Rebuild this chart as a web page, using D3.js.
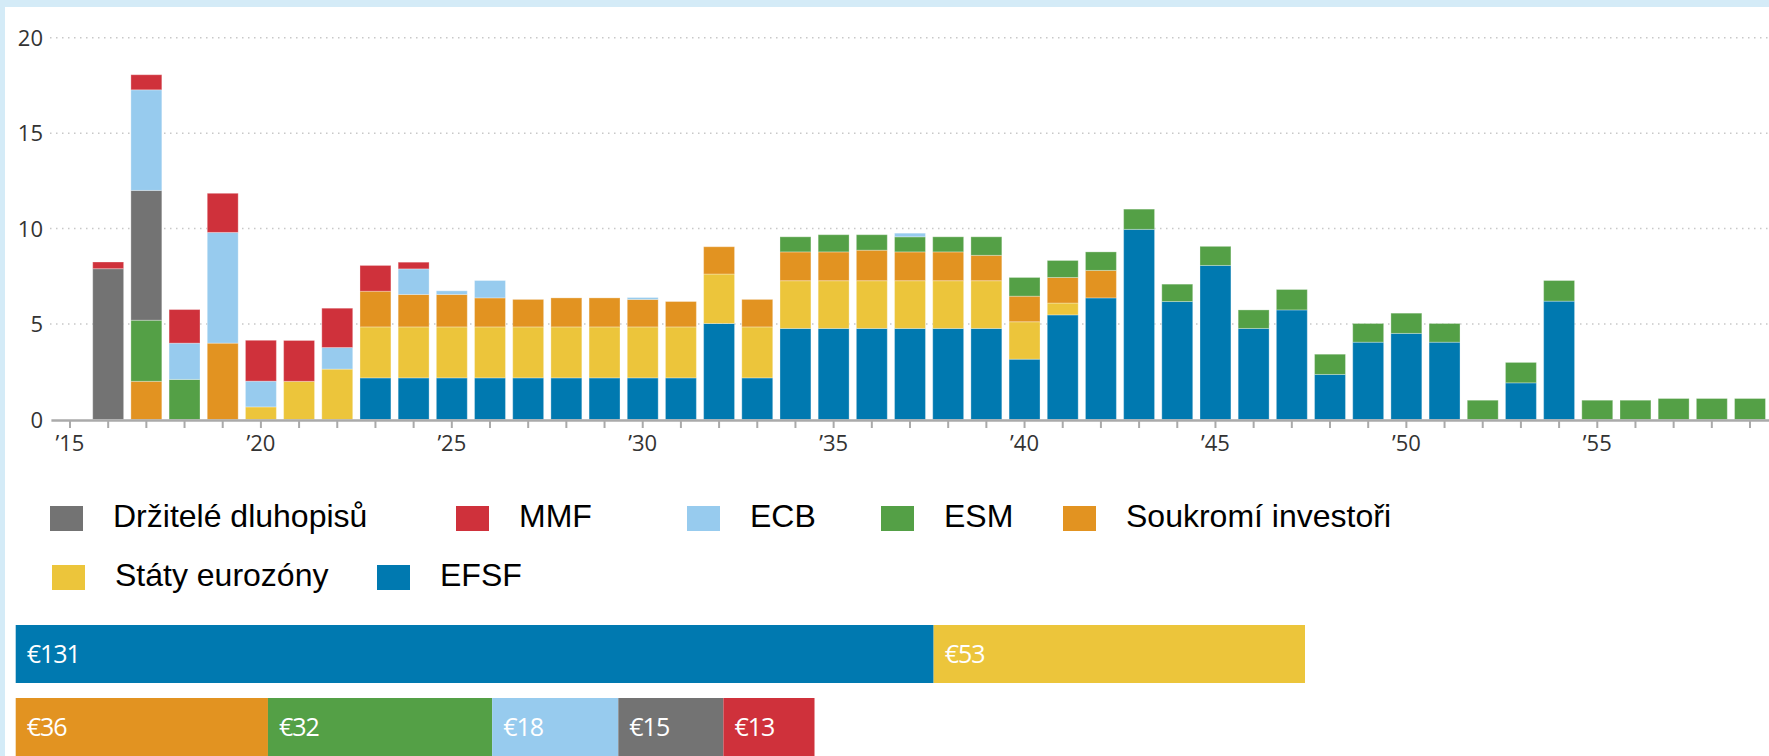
<!DOCTYPE html>
<html lang="cs">
<head>
<meta charset="UTF-8" />
<title>Splátky dluhu</title>
<script src="https://d3js.org/d3.v7.min.js"></script>
<style>
  body { margin: 0; background: #d4ebf7; }
  svg { display: block; }
</style>
</head>
<body>
<svg id="chart" width="1769" height="756"></svg>
<script>
// years on the x axis ('15 .. '59)
var years = d3.range(2015, 2060);

// series, bottom to top of each stack (values in bn EUR, 2015..2059)
var efsf   = [0,0,0,0,0,0,0,0, 2.18,2.18,2.18,2.18,2.18,2.18,2.18,2.18,2.18,5.03,2.18,4.77,4.77,4.77,4.77,4.77,4.77,3.16,5.48,6.37,9.96,6.18,8.07,4.77,5.74,2.36,4.05,4.51,4.05,0,1.92,6.2,0,0,0,0,0];
var staty  = [0,0,0,0,0,0.66,2.0,2.64, 2.67,2.67,2.67,2.67,2.67,2.67,2.67,2.67,2.67,2.59,2.67,2.5,2.5,2.5,2.5,2.5,2.5,1.96,0.62,0,0,0,0,0,0,0,0,0,0,0,0,0,0,0,0,0,0];
var soukr  = [0,0,2.0,0,4.0,0,0,0, 1.87,1.7,1.7,1.52,1.44,1.52,1.52,1.44,1.33,1.43,1.44,1.51,1.51,1.6,1.51,1.51,1.33,1.34,1.34,1.44,0,0,0,0,0,0,0,0,0,0,0,0,0,0,0,0,0];
var esm    = [0,0,3.2,2.1,0,0,0,0, 0,0,0,0,0,0,0,0,0,0,0,0.79,0.9,0.81,0.79,0.79,0.97,0.98,0.89,0.97,1.06,0.91,1.0,0.97,1.07,1.06,0.98,1.06,0.98,1.01,1.07,1.08,1.01,1.01,1.1,1.1,1.1];
var drzit  = [0,7.9,6.8,0,0,0,0,0, 0,0,0,0,0,0,0,0,0,0,0,0,0,0,0,0,0,0,0,0,0,0,0,0,0,0,0,0,0,0,0,0,0,0,0,0,0];
var ecb    = [0,0,5.27,1.9,5.8,1.35,0,1.13, 0,1.34,0.19,0.91,0,0,0,0.1,0,0,0,0,0,0,0.19,0,0,0,0,0,0,0,0,0,0,0,0,0,0,0,0,0,0,0,0,0,0];
var mmf    = [0,0.35,0.79,1.76,2.05,2.14,2.14,2.06, 1.35,0.35,0,0,0,0,0,0,0,0,0,0,0,0,0,0,0,0,0,0,0,0,0,0,0,0,0,0,0,0,0,0,0,0,0,0,0];

var seriesKeys   = ["efsf", "staty", "soukr", "esm", "drzit", "ecb", "mmf"];
var seriesValues = [efsf, staty, soukr, esm, drzit, ecb, mmf];
var seriesNames  = {
  drzit: "Držitelé dluhopisů", mmf: "MMF", ecb: "ECB", esm: "ESM",
  soukr: "Soukromí investoři", staty: "Státy eurozóny", efsf: "EFSF"
};
var colors = {
  efsf: "#0079b0", staty: "#ecc53b", soukr: "#e29321", esm: "#54a046",
  drzit: "#737373", ecb: "#97cbee", mmf: "#cf313b"
};

// totals strip under the legend
var totalsRow1 = [["efsf", 131], ["staty", 53]];
var totalsRow2 = [["soukr", 36], ["esm", 32], ["ecb", 18], ["drzit", 15], ["mmf", 13]];

// legend order, two rows
var legendRow1 = ["drzit", "mmf", "ecb", "esm", "soukr"];
var legendRow2 = ["staty", "efsf"];

var svg = d3.select("#chart");

// white panel on light blue frame
svg.append("rect").attr("width", 1769).attr("height", 756).attr("fill", "#d4ebf7");
svg.append("rect").attr("x", 5).attr("y", 7).attr("width", 1764).attr("height", 749).attr("fill", "#fff");

var x = d3.scaleBand()
  .domain(years)
  .range([50.9, 1769.1])
  .paddingInner(0.19)
  .paddingOuter(0.095);

var y = d3.scaleLinear()
  .domain([0, 20])
  .range([419.5, 37.7]);

var axisFont = "'Open Sans', sans-serif";

// gridlines
var grid = svg.append("g");
grid.selectAll("line")
  .data(y.ticks(4).filter(function(d){ return d > 0; }))
  .enter().append("line")
  .attr("x1", 50).attr("x2", 1769)
  .attr("y1", function(d){ return y(d); })
  .attr("y2", function(d){ return y(d); })
  .attr("stroke", "#c8c8c8")
  .attr("stroke-width", 1.5)
  .attr("stroke-dasharray", "1.5,4.5");

// y labels
svg.append("g").selectAll("text")
  .data(y.ticks(4))
  .enter().append("text")
  .attr("x", 43)
  .attr("y", function(d){ return y(d) + 8; })
  .attr("text-anchor", "end")
  .attr("font-family", axisFont)
  .attr("font-size", 22)
  .attr("fill", "#333")
  .text(function(d){ return d; });

// stacked bars
var table = years.map(function(yr, i) {
  var row = { year: yr };
  seriesKeys.forEach(function(k, j){ row[k] = seriesValues[j][i]; });
  return row;
});
var stacked = d3.stack().keys(seriesKeys)(table);

svg.append("g").selectAll("g")
  .data(stacked)
  .enter().append("g")
  .attr("fill", function(d){ return colors[d.key]; })
  .selectAll("rect")
  .data(function(d){ return d.filter(function(s){ return s[1] - s[0] > 0; }); })
  .enter().append("rect")
  .attr("x", function(d){ return x(d.data.year); })
  .attr("width", x.bandwidth())
  .attr("y", function(d){ return y(d[1]); })
  .attr("height", function(d){ return y(d[0]) - y(d[1]); })
  .attr("stroke", "#fff")
  .attr("stroke-opacity", 0.3)
  .attr("stroke-width", 1);

// x axis
var xAxis = d3.axisBottom(x)
  .tickSize(8)
  .tickSizeOuter(0)
  .tickFormat(function(d){ return d % 5 === 0 ? "\u2019" + String(d).slice(2) : ""; });

var gx = svg.append("g")
  .attr("transform", "translate(0,420)")
  .call(xAxis);
gx.select(".domain").attr("stroke", "#aaa").attr("stroke-width", 2.5);
gx.selectAll(".tick line").attr("stroke", "#aaa").attr("stroke-width", 2);
gx.selectAll(".tick text")
  .attr("font-family", axisFont)
  .attr("font-size", 22)
  .attr("fill", "#333")
  .attr("dy", "0.9em");

// legend
var legendX1 = [50, 456, 687, 881, 1063];
var legendX2 = [52, 377];
function drawLegend(keys, xs, top) {
  var g = svg.append("g");
  var items = g.selectAll("g").data(keys).enter().append("g")
    .attr("transform", function(d, i){ return "translate(" + xs[i] + "," + top + ")"; });
  items.append("rect")
    .attr("width", 33).attr("height", 25)
    .attr("fill", function(d){ return colors[d]; });
  items.append("text")
    .attr("x", 63).attr("y", 21)
    .attr("font-family", "'Liberation Sans', Arial, sans-serif")
    .attr("font-size", 32)
    .attr("fill", "#000")
    .text(function(d){ return seriesNames[d]; });
}
drawLegend(legendRow1, legendX1, 506);
drawLegend(legendRow2, legendX2, 565);

// totals strip
var tx = d3.scaleLinear().domain([0, 184]).range([15.7, 1305]);
function drawTotals(rows, top, h) {
  var acc = 0;
  var data = rows.map(function(r){ var o = { key: r[0], v: r[1], s: acc }; acc += r[1]; return o; });
  var g = svg.append("g");
  g.selectAll("rect").data(data).enter().append("rect")
    .attr("x", function(d){ return tx(d.s); })
    .attr("width", function(d){ return tx(d.s + d.v) - tx(d.s); })
    .attr("y", top).attr("height", h)
    .attr("fill", function(d){ return colors[d.key]; });
  g.selectAll("text").data(data).enter().append("text")
    .attr("x", function(d){ return tx(d.s) + 11; })
    .attr("y", top + h / 2 + 9)
    .attr("font-family", axisFont)
    .attr("font-size", 25)
    .attr("letter-spacing", -1)
    .attr("fill", "#fff")
    .text(function(d){ return "\u20ac" + d.v; });
}
drawTotals(totalsRow1, 625, 58);
drawTotals(totalsRow2, 698, 58);
</script>
</body>
</html>
